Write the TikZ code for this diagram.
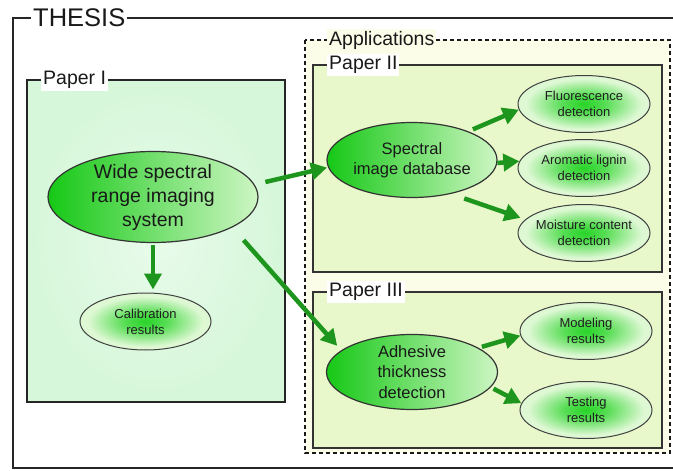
\documentclass[tikz,border=0pt]{standalone}
\usepackage{fontspec}
\setmainfont{Liberation Sans}
\usetikzlibrary{shapes.geometric,arrows.meta}
\definecolor{arrowgreen}{RGB}{30,150,30}
\definecolor{bigL}{RGB}{22,200,22}
\definecolor{bigR}{RGB}{205,246,195}
\definecolor{smIn}{RGB}{40,212,40}
\definecolor{smOut}{RGB}{222,248,212}
\definecolor{pIout}{RGB}{214,247,218}
\definecolor{pIin}{RGB}{232,251,234}
\definecolor{appfill}{RGB}{252,253,232}
\definecolor{pfill}{RGB}{233,248,202}
\pgfdeclareradialshading{smshade}{\pgfpoint{0bp}{0bp}}{color(0bp)=(smIn); color(8bp)=(smIn!75!smOut); color(22bp)=(smOut); color(50bp)=(smOut)}
\tikzset{
  frame/.style={line width=2pt, draw=black!85},
  flabel/.style={fill=white, inner sep=2pt, anchor=west, font=\fontsize{19.5}{19.5}\selectfont, text=black!90},
  bigell/.style={ellipse, draw=black!80, line width=1.2pt, left color=bigL, right color=bigR, inner sep=-4pt, align=center, text=black!90},
  smallell/.style={ellipse, draw=black!75, line width=1pt, shading=smshade, inner sep=-4pt, minimum width=132pt, minimum height=57pt, align=center, text=black!88, font=\fontsize{13}{16}\selectfont},
  arr/.style={draw=arrowgreen, line width=4.5pt, -{Triangle[length=16pt,width=17pt]}},
}
\begin{document}
\begin{tikzpicture}[x=1pt,y=-1pt]
\useasboundingbox (0,0) rectangle (673,471);
\clip (0,0) rectangle (673,471);
\fill[white] (0,0) rectangle (673,471);
% THESIS frame
\draw[frame] (13,18) rectangle (700,468);
\node[flabel, font=\fontsize{25.5}{25.5}\selectfont] (thesis) at (31,18) {THESIS};
% Paper I
\shade[inner color=pIin, outer color=pIout] (27,80) rectangle (285,402);
\draw[frame] (27,80) rectangle (285,402);
\node[flabel] (p1) at (41,80) {Paper I};
% Applications
\draw[fill=appfill, draw=black!90, line width=2.3pt, dash pattern=on 4pt off 3pt] (305,40) rectangle (670,453);
\node[flabel, fill=appfill] (app) at (327,40) {Applications};
% Paper II
\draw[frame, fill=pfill, draw=black!80] (313,65) rectangle (662,272);
\node[flabel] (p2) at (327,65) {Paper II};
% Paper III
\draw[frame, fill=pfill, draw=black!80] (313,292) rectangle (662,448);
\node[flabel] (p3) at (327,292) {Paper III};
% ellipses
\node[bigell, minimum width=210pt, minimum height=91pt, font=\fontsize{19.5}{24}\selectfont] (wide) at (153,197) {Wide spectral\\range imaging\\system};
\node[smallell, minimum width=131pt] (cal) at (145.5,321.5) {Calibration\\results};
\node[bigell, minimum width=170pt, minimum height=75pt, font=\fontsize{16.5}{20.5}\selectfont] (spec) at (412,160) {Spectral\\image database};
\node[bigell, minimum width=171pt, minimum height=75pt, font=\fontsize{16.5}{20.5}\selectfont] (adh) at (412,372) {Adhesive\\thickness\\detection};
\node[smallell] (fl) at (584,104) {Fluorescence\\detection};
\node[smallell] (arom) at (584,168) {Aromatic lignin\\detection};
\node[smallell] (mo) at (584,233) {Moisture content\\detection};
\node[smallell] (mod) at (586,331) {Modeling\\results};
\node[smallell] (test) at (586,410) {Testing\\results};
% arrows
\draw[arr, shorten <=11pt, shorten >=1pt] (wide.7) -- (spec.185);
\draw[arr, shorten <=2pt, shorten >=3pt] (wide.south) -- (wide.south |- cal.north);
\draw[arr, shorten <=17pt, shorten >=6pt] (wide.-21) -- (adh.163);
\draw[arr, shorten <=5pt] (spec.27) -- (fl.185);
\draw[arr] (spec.-2) -- (arom.174);
\draw[arr, shorten <=14pt, shorten >=5pt] (spec.-41) -- (mo.167);
\draw[arr, shorten <=3.5pt] (adh.20) -- (mod.184);
\draw[arr, shorten <=3pt] (adh.-11) -- (test.174);
\end{tikzpicture}
\end{document}
